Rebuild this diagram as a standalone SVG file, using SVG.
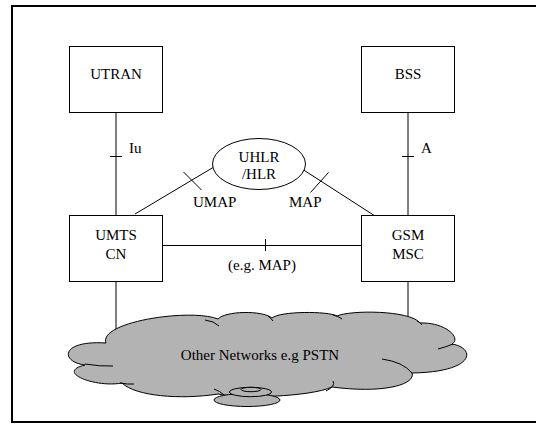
<svg xmlns="http://www.w3.org/2000/svg" width="536" height="425" viewBox="0 0 536 425">
<style>
text{font-family:"Liberation Serif","Times New Roman",serif;font-size:15px;fill:#000}
.box{fill:#fff;stroke:#000;stroke-width:1}
.ln{fill:none;stroke:#000;stroke-width:1}
.cloud{fill:#b3b3b3;stroke:#000;stroke-width:1}
</style>
<rect x="12" y="6" width="540" height="416" fill="#fff" stroke="#000" stroke-width="2"/>
<g id="connectors">
<line class="ln" x1="116" y1="112.5" x2="116" y2="215.5"/>
<line class="ln" x1="110" y1="156.5" x2="122" y2="156.5"/>
<line class="ln" x1="408" y1="112.5" x2="408" y2="215.5"/>
<line class="ln" x1="402" y1="156.5" x2="414" y2="156.5"/>
<line class="ln" x1="162.5" y1="245.5" x2="362.5" y2="245.5"/>
<line class="ln" x1="265.5" y1="239" x2="265.5" y2="251"/>
<line class="ln" x1="135" y1="214" x2="213" y2="167.5"/>
<line class="ln" x1="183.5" y1="172" x2="201.5" y2="190"/>
<line class="ln" x1="299" y1="167" x2="375" y2="216"/>
<line class="ln" x1="328.5" y1="172.5" x2="310.5" y2="192.5"/>
<line class="ln" x1="116" y1="281" x2="116" y2="332"/>
<line class="ln" x1="408" y1="281" x2="408" y2="316"/>
<text x="129" y="153">Iu</text>
<text x="421" y="153">A</text>
<text x="193" y="207">UMAP</text>
<text x="289" y="207">MAP</text>
<text x="262" y="270" text-anchor="middle">(e.g. MAP)</text>
</g>
<g id="utran">
<rect class="box" x="69.5" y="46.5" width="93" height="66"/>
<text x="116" y="79" text-anchor="middle">UTRAN</text>
</g>
<g id="bss">
<rect class="box" x="361.5" y="46.5" width="93" height="66"/>
<text x="408" y="79" text-anchor="middle">BSS</text>
</g>
<g id="uhlr">
<ellipse class="box" cx="259" cy="164" rx="46.5" ry="25.5"/>
<text x="259" y="162" text-anchor="middle">UHLR</text>
<text x="259" y="179" text-anchor="middle">/HLR</text>
</g>
<g id="umtscn">
<rect class="box" x="69.5" y="215.5" width="93" height="66"/>
<text x="116" y="240" text-anchor="middle">UMTS</text>
<text x="116" y="259" text-anchor="middle">CN</text>
</g>
<g id="gsmmsc">
<rect class="box" x="361.5" y="215.5" width="93" height="66"/>
<text x="408" y="240" text-anchor="middle">GSM</text>
<text x="408" y="259" text-anchor="middle">MSC</text>
</g>
<g id="cloud">
<path class="cloud" d="M106,343 C98,322 190,308 218,319 C225,311 262,310 272,318 C280,311 328,311 337,316 C350,310 410,310 420,323 C445,322 462,338 452,344 C476,348 476,372 412,373 C416,384 385,394 332,387 C310,397 240,399 218,394 C180,400 135,396 122,383 C95,388 55,372 85,365 C60,362 60,340 106,343 Z"/>
<path class="ln" d="M85,364 Q100,366.5 113,366"/>
<path class="ln" d="M120,383 Q128,384.5 134,384"/>
<path class="ln" d="M205,320 Q214,321 219,326"/>
<path class="ln" d="M268,316 Q271,318 273,321"/>
<path class="ln" d="M333,315 Q338,316 342,319"/>
<path class="ln" d="M417,321 Q420,322 422,325"/>
<path class="ln" d="M453,344 Q446,347 438,349"/>
<path class="ln" d="M382,359 Q403,362 412,373"/>
<path class="ln" d="M326,391 Q336,386 333,381"/>
<path class="ln" d="M214,389 Q220,391 224,395"/>
<ellipse class="cloud" cx="247" cy="400" rx="33" ry="6.5"/>
<ellipse class="cloud" cx="250.5" cy="392" rx="21" ry="4.7"/>
<ellipse class="cloud" cx="251" cy="389.5" rx="10" ry="2.2"/>
<text x="260" y="360" text-anchor="middle">Other Networks e.g PSTN</text>
</g>
</svg>
